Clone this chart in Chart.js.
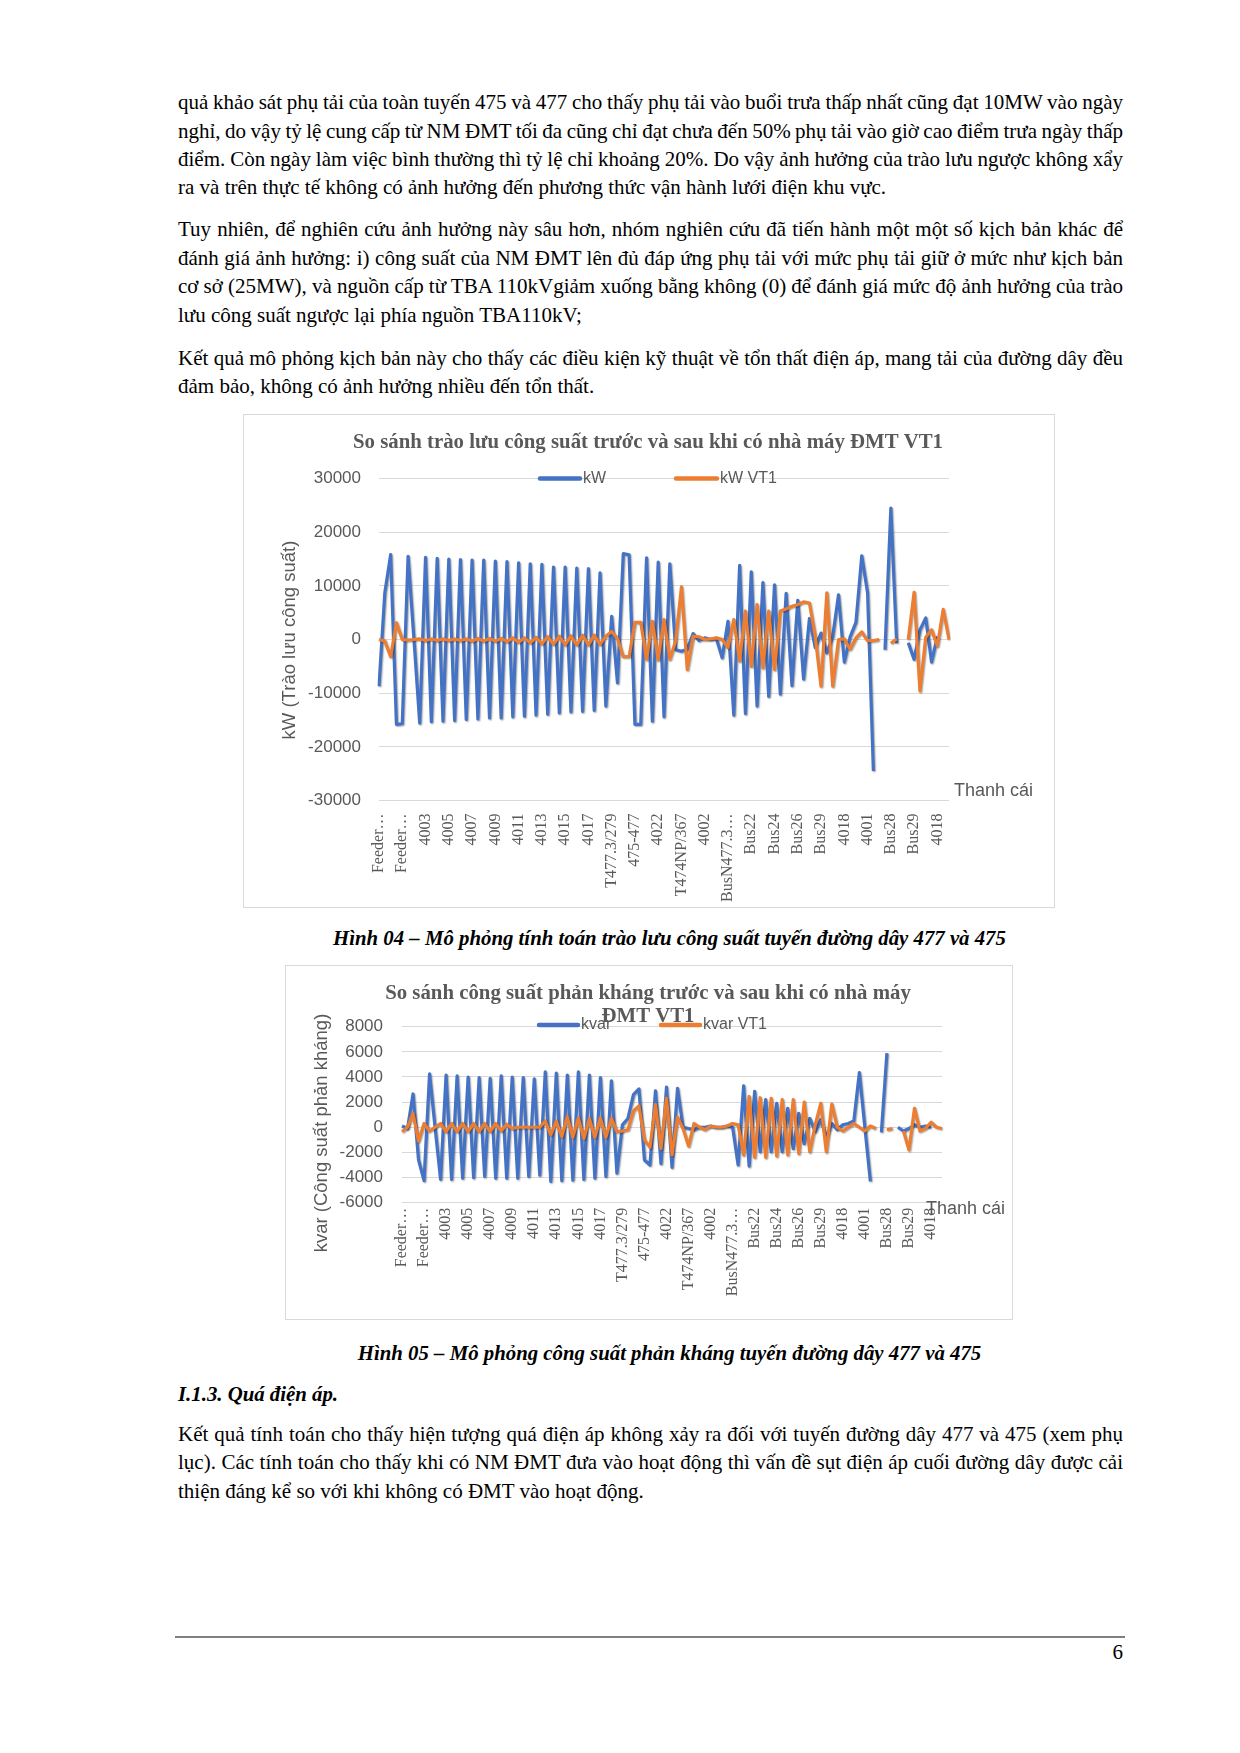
<!DOCTYPE html>
<html lang="vi">
<head>
<meta charset="utf-8">
<title>Hình 04 - Hình 05</title>
<script src="https://cdn.jsdelivr.net/npm/chart.js@4.4.1/dist/chart.umd.min.js"></script>
<style>
  html, body { margin: 0; padding: 0; background: #fff; }
  .page {
    position: relative; width: 1240px; height: 1753px; overflow: hidden;
    font-family: "Liberation Serif", "Times New Roman", serif; color: #000;
  }
  .ln {
    position: absolute; left: 178px; width: 945px; height: 28px; line-height: 28px;
    font-size: 21px; white-space: nowrap; word-spacing: -1.5px;
    text-align: justify; text-align-last: justify;
  }
  .ln.end { text-align-last: left; word-spacing: 0; }
  .cap {
    position: absolute; left: 178px; width: 983px; height: 28px; line-height: 28px;
    font-size: 20.8px; font-weight: bold; font-style: italic; text-align: center;
  }
  .head {
    position: absolute; left: 178px; height: 28px; line-height: 28px;
    font-size: 20.8px; font-weight: bold; font-style: italic;
  }
  .box { position: absolute; border: 1px solid #d9d9d9; background: #fff; }
  .box canvas { display: block; }
  .rule { position: absolute; left: 175px; top: 1636px; width: 950px; height: 2px; background: #7f7f7f; }
  .pnum { position: absolute; left: 1023px; width: 100px; top: 1638px; line-height: 28px; font-size: 21px; text-align: right; }
</style>
</head>
<body>
<div class="page">
  <div class="ln" style="top:88px">quả khảo sát phụ tải của toàn tuyến 475 và 477 cho thấy phụ tải vào buổi trưa thấp nhất cũng đạt 10MW vào ngày</div>
  <div class="ln" style="top:117px">nghỉ, do vậy tỷ lệ cung cấp từ NM ĐMT tối đa cũng chỉ đạt chưa đến 50% phụ tải vào giờ cao điểm trưa ngày thấp</div>
  <div class="ln" style="top:145px">điểm. Còn ngày làm việc bình thường thì tỷ lệ chỉ khoảng 20%. Do vậy ảnh hưởng của trào lưu ngược không xẩy</div>
  <div class="ln end" style="top:173px">ra và trên thực tế không có ảnh hưởng đến phương thức vận hành lưới điện khu vực.</div>

  <div class="ln" style="top:215px">Tuy nhiên, để nghiên cứu ảnh hưởng này sâu hơn, nhóm nghiên cứu đã tiến hành một một số kịch bản khác để</div>
  <div class="ln" style="top:244px">đánh giá ảnh hưởng: i) công suất của NM ĐMT lên đủ đáp ứng phụ tải với mức phụ tải giữ ở mức như kịch bản</div>
  <div class="ln" style="top:272px">cơ sở (25MW), và nguồn cấp từ TBA 110kVgiảm xuống bằng không (0) để đánh giá mức độ ảnh hưởng của trào</div>
  <div class="ln end" style="top:301px">lưu công suất ngược lại phía nguồn TBA110kV;</div>

  <div class="ln" style="top:344px">Kết quả mô phỏng kịch bản này cho thấy các điều kiện kỹ thuật về tổn thất điện áp, mang tải của đường dây đều</div>
  <div class="ln end" style="top:372px">đảm bảo, không có ảnh hưởng nhiều đến tổn thất.</div>

  <div class="box" style="left:243px; top:414px;"><canvas id="chartKW" width="810" height="492"></canvas></div>
  <div class="cap" style="top:924px">Hình 04 – Mô phỏng tính toán trào lưu công suất tuyến đường dây 477 và 475</div>

  <div class="box" style="left:285px; top:965px;"><canvas id="chartKvar" width="726" height="353"></canvas></div>
  <div class="cap" style="top:1339px">Hình 05 – Mô phỏng công suất phản kháng tuyến đường dây 477 và 475</div>

  <div class="head" style="top:1380px">I.1.3. Quá điện áp.</div>
  <div class="ln" style="top:1420px">Kết quả tính toán cho thấy hiện tượng quá điện áp không xảy ra đối với tuyến đường dây 477 và 475 (xem phụ</div>
  <div class="ln" style="top:1448px">lục). Các tính toán cho thấy khi có NM ĐMT đưa vào hoạt động thì vấn đề sụt điện áp cuối đường dây được cải</div>
  <div class="ln end" style="top:1477px">thiện đáng kể so với khi không có ĐMT vào hoạt động.</div>

  <div class="rule"></div>
  <div class="pnum">6</div>
</div>

<script>
// Nhãn thanh cái hiện trên trục X (mỗi nhãn cách 4 điểm)
const busLabels = [
  "Feeder…", "Feeder…", "4003", "4005", "4007", "4009", "4011", "4013", "4015", "4017",
  "T477.3/279", "475-477", "4022", "T474NP/367", "4002", "BusN477.3…", "Bus22", "Bus24",
  "Bus26", "Bus29", "4018", "4001", "Bus28", "Bus29", "4018"
];

// Công suất tác dụng (kW) - trước và sau khi có ĐMT VT1
const kW = [
  -8700, 8700, 15800, -15800, -15700, 15500, 200, -15600, 15300, -15300,
  15100, -15200, 15000, -15100, 14900, -14900, 14800, -14800, 14800, -14600,
  14600, -14600, 14500, -14400, 14300, -14300, 14100, -14100, 14000, -13900,
  13500, -13700, 13500, -13500, 13300, -13400, 13200, -13200, 12400, -12400,
  4300, -8100, 16000, 15800, -15800, -15800, 15200, -15200, 14400, -14400,
  14100, -1900, -2200, -1800, 1100, -200, 300, 0, 200, -3400,
  3400, -14100, 13800, -13800, 12600, -12400, 10600, -10600, 10200, -10200,
  8600, -8600, 7300, -7400, 3900, -1500, 1200, -2500, 500, 8300,
  -4200, 500, 3200, 15600, 8700, -24500, null, -1900, 24500, -700,
  null, -600, -3700, 1800, 4000, -4200, 600, null, null
];
const kW_VT1 = [
  0, -300, -3200, 3100, 0, -100, 0, 100, -200, 100,
  -200, 100, -200, 100, -200, 100, -300, 200, -300, 200,
  -300, 200, -400, 300, -500, 300, -600, 400, -800, 500,
  -900, 600, -1000, 700, -1000, 800, -1000, 800, -900, 600,
  1500, 200, -3200, -3200, 3200, 3200, -3700, 3400, -3800, 3700,
  -3700, -300, 9800, -5600, 600, 500, 0, 100, 300, 0,
  -1500, 3700, -4000, 5300, -5000, 6500, -5300, 5300, -5600, 5300,
  5700, 6200, 6500, 7000, 6800, 600, -8700, 8700, -8700, 0,
  100, -1800, 300, 1400, -200, -200, 0, null, -700, 100,
  null, 0, 8800, -9600, 400, 1800, -1200, 5600, 0
];

// Công suất phản kháng (kvar) - trước và sau khi có ĐMT VT1
const kvar = [
  100, -100, 2650, -2600, -4250, 4250, 0, -4150, 4150, -4150,
  4100, -4050, 4000, -4000, 3950, -3900, 3900, -4050, 4100, -4050,
  4000, -4050, 3950, -3900, 3850, -3800, 4400, -4300, 4300, -4250,
  4150, -4200, 4400, -4150, 4150, -4050, 3950, -3900, 3700, -3650,
  200, 700, 2600, 3050, -2600, -3000, 2900, -2900, 3200, -3200,
  3100, 0, -100, -200, 0, 0, 100, 0, 0, 100,
  0, -3000, 3300, -3100, 2850, -1950, 2200, -1950, 1900, -1950,
  1500, -1700, 1100, -1300, 700, -350, 600, -800, 300, -200,
  200, 300, 500, 4350, 0, -4300, null, -400, 5900, null,
  0, -300, -100, 200, 0, 100, 0, null, null
];
const kvar_VT1 = [
  -350, 0, 1100, -1100, 300, -300, 0, 300, -350, 300,
  -350, 300, -350, 300, -350, 300, -350, 300, -300, 250,
  -100, 0, 0, 0, 0, 0, 500, -600, 500, -750,
  850, -800, 750, -900, 700, -800, 750, -800, 700, -350,
  -300, -200, 1300, 1700, -1000, -1600, 1800, -1700, 2300, -2200,
  800, -100, -1500, 300, 0, -200, 100, 0, 0, 100,
  300, 200, -2200, 2450, -2400, 2350, -2400, 2300, -2300, 2200,
  -2200, 2200, -2100, 2000, -1950, 200, 1900, -1950, 1850, 0,
  -300, 0, 300, 0, -300, 100, -100, null, -200, -100,
  null, -300, -1800, 1500, -300, -100, 400, 0, -100
];

const BLUE = "#4472C4";
const ORANGE = "#ED7D31";
const GREY = "#595959";

// nhãn trục X: chỉ hiện 1 nhãn sau mỗi 4 điểm
const categories = kW.map((_, i) => (i % 4 === 0 ? busLabels[i / 4] : ""));

// Vẽ tiêu đề, chú thích, tên trục (chồng lên vùng vẽ như bản gốc)
const decorPlugin = {
  id: "decor",
  afterDraw(chart, args, o) {
    const ctx = chart.ctx;
    ctx.save();
    ctx.fillStyle = GREY;
    ctx.textBaseline = "middle";

    ctx.font = 'bold 20.8px "Liberation Serif"';
    ctx.textAlign = "center";
    o.title.forEach((t) => ctx.fillText(t.text, o.titleX, t.y));

    ctx.font = '16px "Liberation Sans"';
    ctx.textAlign = "left";
    o.legend.forEach((it) => {
      ctx.strokeStyle = it.color;
      ctx.lineWidth = 4.5;
      ctx.lineCap = "round";
      ctx.beginPath();
      ctx.moveTo(it.x1, o.legendY);
      ctx.lineTo(it.x2, o.legendY);
      ctx.stroke();
      ctx.fillText(it.text, it.x2 + 3, o.legendY);
    });

    ctx.font = '18px "Liberation Sans"';
    ctx.fillText("Thanh cái", o.xTitle.x, o.xTitle.y);

    ctx.font = '18.5px "Liberation Sans"';
    ctx.translate(o.yTitle.x, o.yTitle.y);
    ctx.rotate(-Math.PI / 2);
    ctx.textAlign = "center";
    ctx.fillText(o.yTitle.text, 0, 0);
    ctx.restore();
  },
};

// bóng mờ dưới đường như Excel
const shadowPlugin = {
  id: "lineShadow",
  beforeDatasetDraw(chart) {
    const c = chart.ctx;
    c.save();
    c.shadowColor = "rgba(0,0,0,0.35)";
    c.shadowBlur = 1.5;
    c.shadowOffsetX = 1;
    c.shadowOffsetY = 1;
  },
  afterDatasetDraw(chart) {
    chart.ctx.restore();
  },
};

function makeChart(id, s1, s2, names, yMin, yMax, yStep, box, decor) {
  return new Chart(document.getElementById(id).getContext("2d"), {
    type: "line",
    data: {
      labels: categories,
      datasets: [
        { label: names[0], data: s1, borderColor: BLUE, borderWidth: 3.2, order: 1 },
        { label: names[1], data: s2, borderColor: ORANGE, borderWidth: 3.2, order: 0 },
      ],
    },
    options: {
      responsive: false,
      animation: false,
      devicePixelRatio: 1,
      events: [],
      spanGaps: false,
      elements: { point: { radius: 0 }, line: { tension: 0, borderJoinStyle: "round" } },
      layout: { padding: { left: 0, top: box.top, right: box.right, bottom: 0 } },
      plugins: {
        legend: { display: false },
        title: { display: false },
        tooltip: { enabled: false },
        decor: decor,
      },
      scales: {
        x: {
          grid: { display: false },
          border: { display: false },
          ticks: {
            autoSkip: false,
            minRotation: 90,
            maxRotation: 90,
            padding: box.xPad,
            color: GREY,
            font: { family: "Liberation Serif", size: 16 },
          },
          afterFit: (s) => { s.height = box.xHeight; },
        },
        y: {
          min: yMin,
          max: yMax,
          grid: { color: "#d9d9d9", lineWidth: 1, drawTicks: false },
          border: { display: false },
          ticks: {
            stepSize: yStep,
            padding: box.yPad,
            color: GREY,
            font: { family: "Liberation Sans", size: 17 },
            callback: (v) => String(v),
          },
          afterFit: (s) => { s.width = box.yWidth; },
        },
      },
    },
    plugins: [shadowPlugin, decorPlugin],
  });
}

makeChart("chartKW", kW, kW_VT1, ["kW", "kW VT1"], -30000, 30000, 10000,
  { top: 63.5, right: 105, xHeight: 106.5, yWidth: 135, xPad: 5, yPad: 18 },
  {
    titleX: 404,
    title: [{ text: "So sánh trào lưu công suất trước và sau khi có nhà máy ĐMT VT1", y: 28 }],
    legendY: 63.5,
    legend: [
      { text: "kW", color: BLUE, x1: 296, x2: 336 },
      { text: "kW VT1", color: ORANGE, x1: 432, x2: 473 },
    ],
    xTitle: { x: 710, y: 376 },
    yTitle: { text: "kW (Trào lưu công suất)", x: 46, y: 225 },
  });

makeChart("chartKvar", kvar, kvar_VT1, ["kvar", "kvar VT1"], -6000, 8000, 2000,
  { top: 60.7, right: 70, xHeight: 116.3, yWidth: 116, xPad: -3, yPad: 19 },
  {
    titleX: 362,
    title: [
      { text: "So sánh công suất phản kháng trước và sau khi có nhà máy", y: 28 },
      { text: "ĐMT VT1", y: 51 },
    ],
    legendY: 59,
    legend: [
      { text: "kvar", color: BLUE, x1: 253, x2: 292 },
      { text: "kvar VT1", color: ORANGE, x1: 375, x2: 414 },
    ],
    xTitle: { x: 640, y: 243 },
    yTitle: { text: "kvar (Công suất phản kháng)", x: 36, y: 167 },
  });
</script>
</body>
</html>
